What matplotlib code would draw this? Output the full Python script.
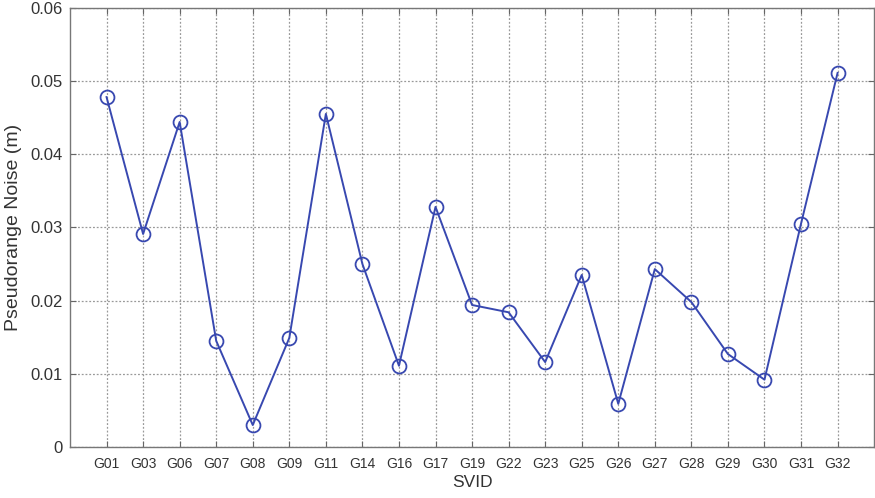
import matplotlib
matplotlib.use('Agg')
import matplotlib.pyplot as plt
import numpy as np

svid = ['G01', 'G03', 'G06', 'G07', 'G08', 'G09', 'G11', 'G14', 'G16', 'G17', 'G19',
        'G22', 'G23', 'G25', 'G26', 'G27', 'G28', 'G29', 'G30', 'G31', 'G32']
noise = [0.0478, 0.0291, 0.0444, 0.0145, 0.0030, 0.0149, 0.0455, 0.0250, 0.0111, 0.0328, 0.0194,
         0.0184, 0.0116, 0.0235, 0.0059, 0.0243, 0.0198, 0.0127, 0.0092, 0.0305, 0.0511]

plt.rcParams['font.family'] = ['Liberation Sans', 'DejaVu Sans']

fig = plt.figure(figsize=(8.75, 4.98), dpi=100)
ax = fig.add_axes([0.08, 0.1024, 0.919, 0.882])

x = np.arange(1, len(svid) + 1)
ax.plot(x, noise, color='#3848b0', linewidth=1.4, marker='o', markersize=10,
        markerfacecolor='none', markeredgecolor='#3848b0', markeredgewidth=1.3)

ax.set_xlim(0, len(svid) + 1)
ax.set_ylim(0, 0.06)
ax.set_xticks(x)
ax.set_xticklabels(svid)
ax.set_yticks(np.arange(0, 0.061, 0.01))
ax.set_yticklabels(['0', '0.01', '0.02', '0.03', '0.04', '0.05', '0.06'])

ax.grid(True, linestyle=(0, (1.5, 1.5)), color='#999999', linewidth=0.9)
ax.tick_params(axis='both', direction='in', top=True, right=True, length=4,
               color='#666666', labelcolor='#333333')
ax.tick_params(axis='y', labelsize=12, pad=5)
ax.tick_params(axis='x', labelsize=10, pad=7)
for s in ax.spines.values():
    s.set_color('#777777')
    s.set_linewidth(1.0)

ax.set_xlabel('SVID', fontsize=12.5, color='#333333', labelpad=3)
ax.set_ylabel('Pseudorange Noise (m)', fontsize=14, color='#333333', labelpad=6)

fig.savefig('out.png', dpi=100)
